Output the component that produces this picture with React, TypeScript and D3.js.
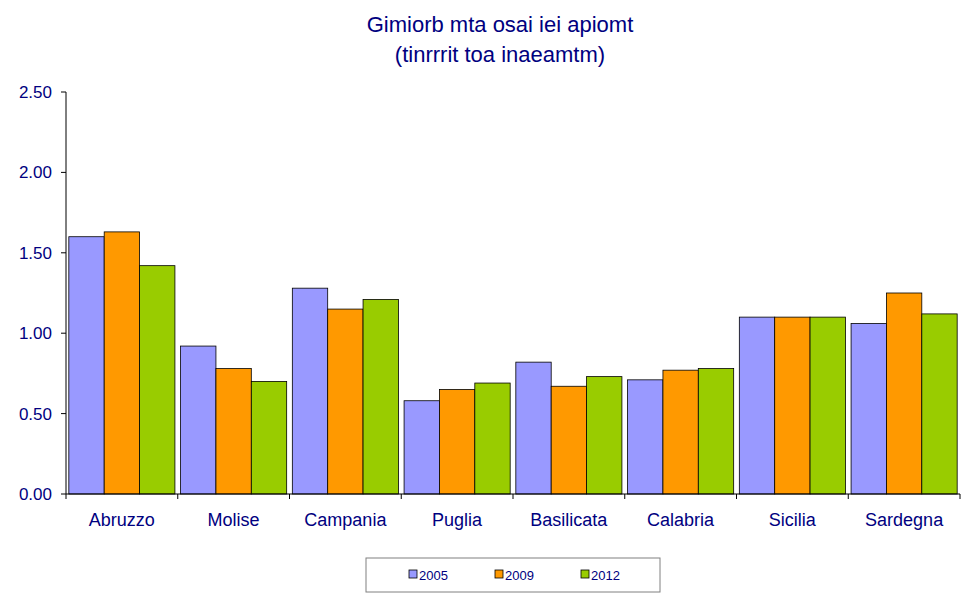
import * as d3 from 'd3'

const categories = ['Abruzzo', 'Molise', 'Campania', 'Puglia', 'Basilicata', 'Calabria', 'Sicilia', 'Sardegna']
const seriesNames = ['2005', '2009', '2012']
const v2005 = [1.60, 0.92, 1.28, 0.58, 0.82, 0.71, 1.10, 1.06]
const v2009 = [1.63, 0.78, 1.15, 0.65, 0.67, 0.77, 1.10, 1.25]
const v2012 = [1.42, 0.70, 1.21, 0.69, 0.73, 0.78, 1.10, 1.12]
const yTicks = [0, 0.5, 1, 1.5, 2, 2.5]
const colors = ['#9999FF', '#FF9900', '#99CC00']
const navy = '#000080'
const font = 'Arial, "Liberation Sans", sans-serif'

export default function App() {
  const series = [v2005, v2009, v2012]
  const left = 66, right = 960, top = 92, bottom = 494
  const x = d3.scaleBand().domain(categories).range([left, right]).paddingInner(0).paddingOuter(0)
  const inner = d3.scaleBand().domain(seriesNames).range([0, x.bandwidth()]).paddingOuter(0.08).paddingInner(0)
  const y = d3.scaleLinear().domain([0, 2.5]).range([bottom, top])
  return (
    <svg width={967} height={594} style={{ position: 'absolute', left: 0, top: 0, fontFamily: font }}>
      <rect width={967} height={594} fill="#fff" />
      <text x={500} y={32} textAnchor="middle" fontSize={22} fill={navy}>Gimiorb mta osai iei apiomt</text>
      <text x={500} y={62} textAnchor="middle" fontSize={22} fill={navy}>(tinrrrit toa inaeamtm)</text>
      {series.map((vals, s) =>
        vals.map((v, i) => (
          <rect key={`${s}-${i}`} x={x(categories[i])! + inner(seriesNames[s])!} y={y(v)}
            width={inner.bandwidth()} height={y(0) - y(v)} fill={colors[s]} stroke="#000" strokeWidth={0.8} />
        ))
      )}
      <line x1={left} x2={left} y1={top} y2={bottom} stroke="#000" />
      <line x1={left} x2={right} y1={bottom} y2={bottom} stroke="#000" />
      {yTicks.map(t => (
        <g key={t}>
          <line x1={left - 5} x2={left} y1={y(t)} y2={y(t)} stroke="#000" />
          <text x={left - 14} y={y(t) + 6} textAnchor="end" fontSize={17} fill={navy}>{t.toFixed(2)}</text>
        </g>
      ))}
      {categories.map((c, i) => (
        <g key={c}>
          <line x1={x(c)! + x.bandwidth()} x2={x(c)! + x.bandwidth()} y1={bottom} y2={bottom + 5} stroke="#000" />
          {i === 0 && <line x1={left} x2={left} y1={bottom} y2={bottom + 5} stroke="#000" />}
          <text x={x(c)! + x.bandwidth() / 2} y={526} textAnchor="middle" fontSize={18} fill={navy}>{c}</text>
        </g>
      ))}
      <rect x={366} y={558} width={294} height={34} fill="#fff" stroke="#808080" />
      {seriesNames.map((n, s) => (
        <g key={n}>
          <rect x={409 + s * 86} y={570} width={8} height={8} fill={colors[s]} stroke="#000" strokeWidth={0.8} />
          <text x={419 + s * 86} y={580} fontSize={13} fill={navy}>{n}</text>
        </g>
      ))}
    </svg>
  )
}
